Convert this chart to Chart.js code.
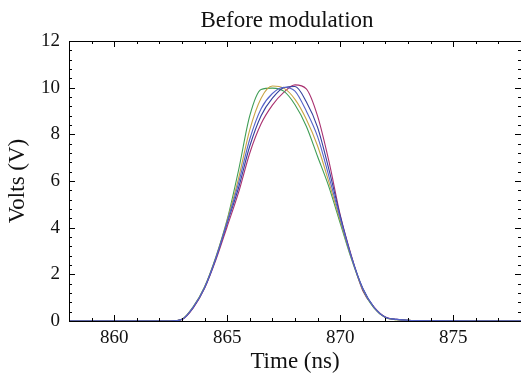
<!DOCTYPE html>
<html>
<head>
<meta charset="utf-8">
<script src="https://cdn.jsdelivr.net/npm/chart.js@4.4.0/dist/chart.umd.min.js"></script>
<style>
  html, body { margin: 0; padding: 0; background: #fff; }
  #wrap { width: 521px; height: 380px; }
</style>
</head>
<body>
<div id="wrap"><canvas id="chart"></canvas></div>
<script>
// sample times (ns) shared by all traces
const timeNs = [858, 860, 862, 862.5, 863, 863.5, 864, 864.5, 865, 865.5, 866, 866.5, 867, 867.5,
  868, 868.5, 869, 869.5, 870, 870.5, 871, 871.5, 872, 872.5, 873, 874, 876, 878];

// volts, one list per trace
const greenV = [0, 0, 0, 0, 0.08, 0.62, 1.47, 2.75, 4.35, 6.45, 8.8, 9.92, 9.98, 9.85,
  9.27, 8.35, 7.05, 5.75, 4.2, 2.65, 1.35, 0.55, 0.15, 0.06, 0.03, 0.01, 0, 0];
const orangeV = [0, 0, 0, 0, 0.08, 0.6, 1.45, 2.72, 4.3, 6.1, 8.2, 9.55, 10.07, 9.98,
  9.5, 8.65, 7.5, 5.95, 4.3, 2.7, 1.37, 0.57, 0.15, 0.06, 0.03, 0.01, 0, 0];
const blueV = [0, 0, 0, 0, 0.07, 0.6, 1.44, 2.7, 4.25, 5.9, 7.8, 9.1, 9.75, 10.02,
  9.85, 9.0, 7.9, 6.2, 4.4, 2.72, 1.38, 0.58, 0.16, 0.07, 0.03, 0.01, 0, 0];
const navyV = [0, 0, 0, 0, 0.07, 0.58, 1.42, 2.68, 4.2, 5.7, 7.5, 8.8, 9.55, 10.0,
  10.05, 9.4, 8.3, 6.5, 4.5, 2.75, 1.4, 0.58, 0.16, 0.07, 0.03, 0.01, 0, 0];
const magentaV = [0, 0, 0, 0, 0.06, 0.56, 1.4, 2.62, 4.05, 5.5, 7.2, 8.45, 9.25, 9.8,
  10.12, 9.95, 8.78, 6.85, 4.55, 2.78, 1.3, 0.6, 0.17, 0.07, 0.03, 0.01, 0, 0];

const xTicks = [860, 865, 870, 875];
const yTicks = [0, 2, 4, 6, 8, 10, 12];

const font = "'Liberation Serif', 'Times New Roman', serif";

function pts(vals) {
  return timeNs.map((t, i) => ({ x: t, y: vals[i] }));
}

function line(vals, color) {
  return {
    data: pts(vals),
    borderColor: color,
    borderWidth: 1.1,
    pointRadius: 0,
    fill: false,
    cubicInterpolationMode: "monotone",
  };
}

// frame with inward ticks on all sides + title
const frameTicks = {
  id: "frameTicks",
  afterDatasetsDraw(chart) {
    const { ctx, chartArea: a, scales } = chart;
    const x = scales.x, y = scales.y;
    ctx.save();
    ctx.strokeStyle = "#000";
    ctx.lineWidth = 1;
    ctx.beginPath();
    ctx.moveTo(a.left + 0.5, a.top + 0.5);
    ctx.lineTo(a.left + 0.5, a.bottom + 0.5);
    ctx.lineTo(a.right, a.bottom + 0.5);
    ctx.moveTo(a.left + 0.5, a.top + 0.5);
    ctx.lineTo(a.right, a.top + 0.5);
    for (let t = 858; t <= 878; t++) {
      const px = Math.round(x.getPixelForValue(t)) + 0.5;
      const len = xTicks.includes(t) ? 6 : 3;
      ctx.moveTo(px, a.bottom);
      ctx.lineTo(px, a.bottom - len);
      ctx.moveTo(px, a.top);
      ctx.lineTo(px, a.top + len);
    }
    for (let i = 0; i <= 30; i++) {
      const v = i * 0.4;
      const py = Math.round(y.getPixelForValue(v)) + 0.5;
      const len = i % 5 === 0 ? 6 : 3;
      ctx.moveTo(a.left, py);
      ctx.lineTo(a.left + len, py);
      ctx.moveTo(a.right, py);
      ctx.lineTo(a.right - len, py);
    }
    ctx.stroke();

    ctx.fillStyle = "#111";
    ctx.font = "23px " + font;
    ctx.textAlign = "center";
    ctx.textBaseline = "alphabetic";
    ctx.fillText("Before modulation", 287, 27);
    ctx.restore();
  },
};

const ctx = document.getElementById("chart").getContext("2d");
new Chart(ctx, {
  type: "line",
  data: {
    datasets: [
      line(blueV, "#5563c9"),
      line(navyV, "#343f9c"),
      line(orangeV, "#c9a444"),
      line(greenV, "#3e9d55"),
      line(magentaV, "#a9306f"),
    ],
  },
  options: {
    responsive: true,
    maintainAspectRatio: false,
    animation: false,
    layout: { padding: { top: 41, left: 0, right: 0, bottom: 0 } },
    plugins: { legend: { display: false }, tooltip: { enabled: false } },
    scales: {
      x: {
        type: "linear",
        min: 858,
        max: 878,
        afterBuildTicks: (s) => { s.ticks = xTicks.map((v) => ({ value: v })); },
        afterFit: (s) => { s.height = 59; },
        grid: { display: false, drawTicks: false },
        border: { display: false },
        ticks: { color: "#111", font: { family: font, size: 19 }, padding: 6, maxRotation: 0 },
        title: { display: true, text: "Time (ns)", color: "#111", font: { family: font, size: 23 }, padding: { top: 0, bottom: 4 } },
      },
      y: {
        min: 0,
        max: 12,
        afterBuildTicks: (s) => { s.ticks = yTicks.map((v) => ({ value: v })); },
        afterFit: (s) => { s.width = 69; },
        grid: { display: false, drawTicks: false },
        border: { display: false },
        ticks: { color: "#111", font: { family: font, size: 19 }, padding: 9 },
        title: { display: true, text: "Volts (V)", color: "#111", font: { family: font, size: 23 }, padding: { top: 4, bottom: 0 } },
      },
    },
  },
  plugins: [frameTicks],
});
</script>
</body>
</html>
